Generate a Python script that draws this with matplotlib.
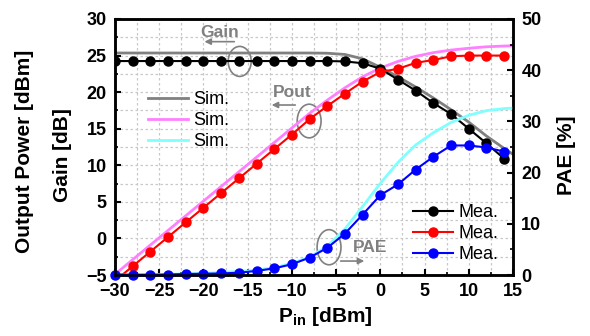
import matplotlib
matplotlib.use("Agg")
import matplotlib.pyplot as plt
from matplotlib.patches import Ellipse
from matplotlib.ticker import MultipleLocator

plt.rcParams['font.family'] = ['Liberation Sans', 'DejaVu Sans']

# measured data (2 dB steps)
pin_mea = [-30, -28, -26, -24, -22, -20, -18, -16, -14, -12, -10, -8, -6, -4,
           -2, 0, 2, 4, 6, 8, 10, 12, 14]
gain_mea = [24.25, 24.25, 24.25, 24.25, 24.25, 24.25, 24.25, 24.25, 24.25, 24.25,
            24.25, 24.25, 24.25, 24.2, 23.95, 23.2, 21.7, 20.2, 18.5, 17.0,
            15.0, 13.0, 10.9]
pout_mea = [-5.8, -3.8, -1.8, 0.2, 2.2, 4.2, 6.2, 8.2, 10.2, 12.2, 14.2, 16.3,
            18.1, 19.8, 21.45, 22.75, 23.2, 24.0, 24.4, 24.9, 25.0, 25.0, 25.0]
pae_mea = [0.1, 0.05, 0.05, 0.1, 0.2, 0.25, 0.3, 0.45, 0.8, 1.3, 2.1, 3.4, 5.3,
           8.1, 11.8, 15.6, 17.7, 20.6, 23.1, 25.3, 25.3, 24.9, 24.1]

# simulated data
pin_sim = [-30, -20, -10, -8, -6, -4, -2, 0, 2, 4, 6, 8, 10, 12, 14, 15]
gain_sim = [25.35, 25.35, 25.35, 25.35, 25.32, 25.15, 24.55, 23.4, 22.1, 20.7,
            19.2, 17.6, 15.9, 14.0, 12.3, 11.5]
pout_sim = [-4.9, 5.1, 15.1, 17.1, 18.9, 20.6, 22.1, 23.3, 24.2, 24.9, 25.4,
            25.75, 26.0, 26.2, 26.3, 26.35]
pin_pae_sim = [-30, -25, -20, -15, -12, -10, -8, -6, -4, -2, 0, 2, 4, 6, 8, 10,
               12, 14, 15]
pae_sim = [0.0, 0.1, 0.3, 0.8, 1.4, 2.3, 3.5, 5.6, 9.0, 13.4, 17.9, 22.0, 25.4,
           27.8, 29.8, 31.2, 32.1, 32.5, 32.6]

fig = plt.figure(figsize=(5.9, 3.36), dpi=100)
ax = fig.add_axes([0.1949, 0.1815, 0.6746, 0.762])
ax2 = ax.twinx()

gray = '#808080'
s1, = ax.plot(pin_sim, gain_sim, color=gray, lw=2)
s2, = ax.plot(pin_sim, pout_sim, color='#ff80ff', lw=2)
s3, = ax2.plot(pin_pae_sim, pae_sim, color='#80ffff', lw=2)

m1, = ax.plot(pin_mea, gain_mea, color='black', lw=1.5, marker='o', ms=6.5)
m2, = ax.plot(pin_mea, pout_mea, color='red', lw=1.5, marker='o', ms=6.5)
m3, = ax2.plot(pin_mea, pae_mea, color='blue', lw=1.5, marker='o', ms=6.5,
               clip_on=False)

ax.set_xlim(-30, 15)
ax.set_ylim(-5, 30)
ax2.set_ylim(0, 50)

ax.xaxis.set_major_locator(MultipleLocator(5))
ax.xaxis.set_minor_locator(MultipleLocator(2.5))
ax.yaxis.set_major_locator(MultipleLocator(5))
ax.yaxis.set_minor_locator(MultipleLocator(2.5))
ax2.yaxis.set_major_locator(MultipleLocator(10))
ax2.yaxis.set_minor_locator(MultipleLocator(5))

ax.grid(True, which='both', color='#c8c8c8', ls=(0, (2, 2)), lw=0.9)
ax.set_axisbelow(True)

for a in (ax, ax2):
    for sp in a.spines.values():
        sp.set_linewidth(1.8)
    a.tick_params(which='major', direction='in', length=4, width=1.5,
                  labelsize=13, pad=6)
    a.tick_params(which='minor', direction='in', length=2.2, width=1.2)
ax.tick_params(axis='y', which='both', right=False)
for lab in ax.get_xticklabels() + ax.get_yticklabels() + ax2.get_yticklabels():
    lab.set_fontweight('bold')

# annotations
ann = dict(color=gray, fontsize=12.5, fontweight='bold', ha='center', va='center')
ax.text(-18.2, 28.2, 'Gain', **ann)
ax.annotate('', xy=(-20.2, 26.9), xytext=(-16.2, 26.9),
            arrowprops=dict(arrowstyle='-|>', color=gray, lw=1.2,
                            mutation_scale=9))
ax.add_patch(Ellipse((-15.9, 24.2), 2.6, 4.1, fill=False, ec=gray, lw=1.2))

ax.text(-10.0, 20.0, 'Pout', **ann)
ax.annotate('', xy=(-12.6, 18.24), xytext=(-9.3, 18.24),
            arrowprops=dict(arrowstyle='-|>', color=gray, lw=1.2,
                            mutation_scale=9))
ax.add_patch(Ellipse((-8.05, 16.05), 2.7, 4.6, fill=False, ec=gray, lw=1.2))

ax.text(-1.15, -1.3, 'PAE', **ann)
ax.annotate('', xy=(-1.5, -3.09), xytext=(-4.8, -3.09),
            arrowprops=dict(arrowstyle='-|>', color=gray, lw=1.2,
                            mutation_scale=9))
ax.add_patch(Ellipse((-5.8, -1.2), 2.7, 4.8, fill=False, ec=gray, lw=1.2,
                     zorder=5))

leg_kw = dict(frameon=False, fontsize=13, handlelength=2.2, handletextpad=0.3,
              labelspacing=0.22, borderpad=0, borderaxespad=0, loc='upper left')
leg1 = ax2.legend([s1, s2, s3], ['Sim.', 'Sim.', 'Sim.'],
                  bbox_to_anchor=(0.083, 0.718), **leg_kw)
ax2.add_artist(leg1)
ax2.legend([m1, m2, m3], ['Mea.', 'Mea.', 'Mea.'],
           bbox_to_anchor=(0.749, 0.276), **leg_kw)

fig.text(25 / 590, 0.548, 'Output Power [dBm]', rotation=90, fontsize=15,
         fontweight='bold', ha='center', va='center')
fig.text(63 / 590, 0.539, 'Gain [dB]', rotation=90, fontsize=15,
         fontweight='bold', ha='center', va='center')
fig.text(567 / 590, 0.539, 'PAE [%]', rotation=90, fontsize=15,
         fontweight='bold', ha='center', va='center')
fig.text(0.551, 0.057, r'P$_{\mathregular{in}}$ [dBm]', fontsize=15,
         fontweight='bold', ha='center', va='center')

fig.savefig('out.png', dpi=100)
